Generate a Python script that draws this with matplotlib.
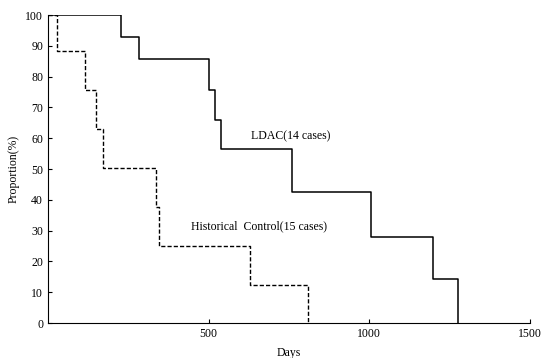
import matplotlib.pyplot as plt

plt.rcParams['font.family'] = ['Liberation Serif', 'DejaVu Serif']

# LDAC (14 cases): step times (days) and proportion (%)
ldac_days = [0, 227, 283, 501, 520, 538, 759, 1005, 1198, 1276]
ldac_prop = [100, 92.9, 85.7, 75.5, 66, 56.5, 42.5, 28, 14.3, 0]

# Historical control (15 cases)
ctrl_days = [0, 28, 115, 149, 171, 336, 345, 629, 809]
ctrl_prop = [100, 88.3, 75.6, 63, 50.3, 37.7, 25, 12.3, 0]

fig = plt.figure(figsize=(5.42, 3.58), dpi=100)
ax = fig.add_axes([48 / 542, 1 - 323 / 358, 482 / 542, 308 / 358])

ax.step(ldac_days, ldac_prop, where='post', color='black', linewidth=1.1)
ax.step(ctrl_days, ctrl_prop, where='post', color='black', linewidth=1.0,
        linestyle=(0, (3, 1.5)))

ax.set_xlim(0, 1500)
ax.set_ylim(0, 100)
ax.set_xticks([500, 1000, 1500])
ax.set_yticks(range(0, 101, 10))
ax.tick_params(direction='in', labelsize=8.5, length=3)
ax.spines['top'].set_visible(False)
ax.spines['right'].set_visible(False)

ax.text(632, 60.5, 'LDAC(14 cases)', fontsize=8.5, va='center')
ax.text(445, 31.5, 'Historical  Control(15 cases)', fontsize=8.5, va='center')

ax.set_xlabel('Days', fontsize=8.5, labelpad=5)
ax.set_ylabel('Proportion(%)', fontsize=8.5, labelpad=4)

fig.savefig('out.png', dpi=100)
